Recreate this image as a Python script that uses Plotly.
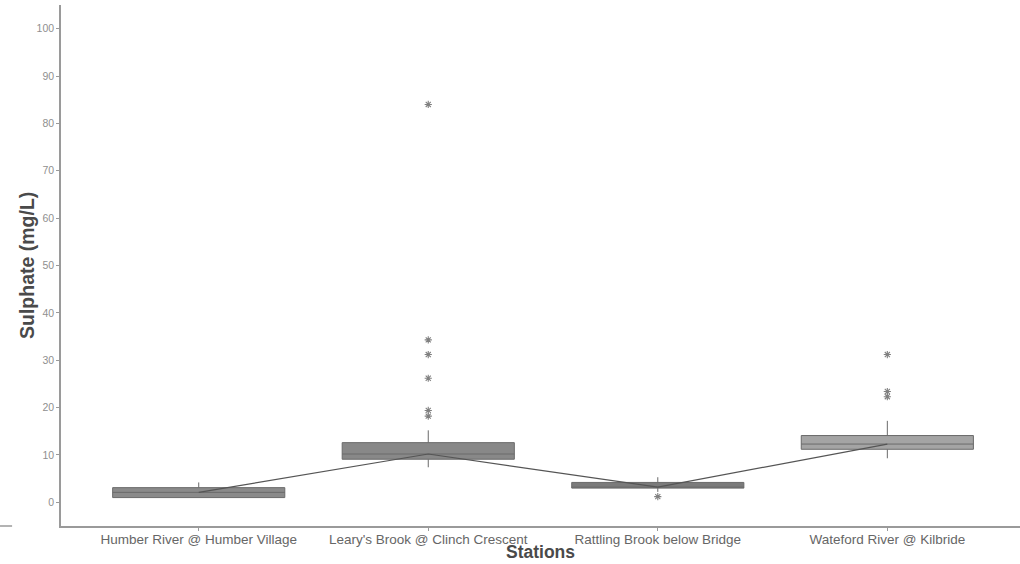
import plotly.graph_objects as go

stations = ["Humber River @ Humber Village", "Leary's Brook @ Clinch Crescent",
            "Rattling Brook below Bridge", "Wateford River @ Kilbride"]
q1 = [1.0, 9.1, 3.0, 11.2]
median = [2.1, 10.2, 3.2, 12.3]
q3 = [3.1, 12.6, 4.2, 14.1]
lower_whisker = [1.0, 7.4, 2.2, 9.3]
upper_whisker = [4.2, 15.2, 5.3, 17.2]
outlier_station = [1, 1, 1, 1, 1, 1, 2, 3, 3, 3]
outlier_value = [84, 34.3, 31.2, 26.2, 19.4, 18.2, 1.2, 31.2, 23.4, 22.3]
box_fill = ["#8a8a8a", "#888888", "#7b7b7b", "#a4a4a4"]

pos = list(range(len(stations)))

fig = go.Figure()
for i in pos:
    fig.add_trace(go.Box(
        x=[pos[i]], q1=[q1[i]], median=[median[i]], q3=[q3[i]],
        lowerfence=[lower_whisker[i]], upperfence=[upper_whisker[i]],
        width=0.75, whiskerwidth=0, fillcolor=box_fill[i],
        line=dict(color="#6a6a6a", width=1), boxpoints=False,
        showlegend=False, hoverinfo="skip"))

fig.add_trace(go.Scatter(
    x=pos, y=median, mode="lines", line=dict(color="#555555", width=1.2),
    showlegend=False, hoverinfo="skip"))

fig.add_trace(go.Scatter(
    x=outlier_station, y=outlier_value, mode="markers",
    marker=dict(symbol="asterisk-open", size=6, color="#808080",
                line=dict(color="#808080", width=1.1)),
    showlegend=False, hoverinfo="skip"))

fig.update_layout(
    width=1020, height=564,
    margin=dict(l=61, r=0, t=5, b=38, autoexpand=False),
    plot_bgcolor="white", paper_bgcolor="white",
    font=dict(family="Liberation Sans, Arial, sans-serif"),
    xaxis=dict(range=[-0.6, 3.578], tickvals=pos, ticktext=stations,
               showgrid=False, zeroline=False, showline=True, automargin=False,
               linecolor="#9a9a9a", linewidth=1.5, ticks="outside",
               ticklen=3, tickcolor="#9a9a9a", ticklabelstandoff=-3,
               tickfont=dict(size=13.5, color="#666666")),
    yaxis=dict(range=[-5, 105], tickvals=list(range(0, 101, 10)),
               showgrid=False, zeroline=False, showline=True, automargin=False,
               linecolor="#9a9a9a", linewidth=1.5, ticks="outside",
               ticklen=3, tickcolor="#9a9a9a",
               tickfont=dict(size=10.5, color="#8f8f8f")),
    shapes=[dict(type="line", xref="paper", yref="paper",
                 x0=-0.0636, x1=-0.051, y0=0, y1=0,
                 line=dict(color="#9a9a9a", width=1.5))],
    annotations=[
        dict(text="<b>Stations</b>", xref="paper", yref="paper",
             x=0.5, y=-0.05, xanchor="center", yanchor="middle",
             showarrow=False, font=dict(size=17.5, color="#4a4a4a")),
        dict(text="<b>Sulphate (mg/L)</b>", xref="paper", yref="paper",
             x=-0.036, y=0.5, xanchor="center", yanchor="middle", textangle=-90,
             showarrow=False, font=dict(size=19.5, color="#4a4a4a")),
    ],
)

fig.write_html("out.html", config={"displayModeBar": False},
               post_script="document.body.style.margin='0';")
